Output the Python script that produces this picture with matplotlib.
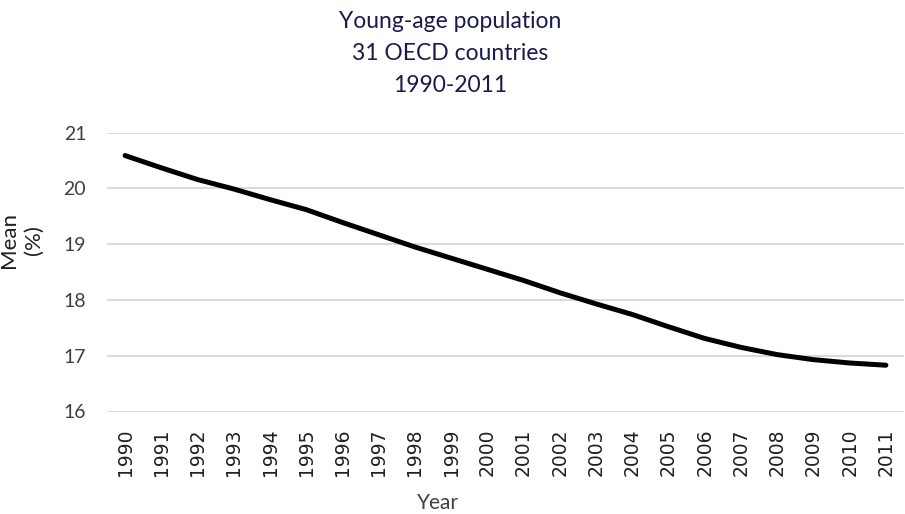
import matplotlib
matplotlib.use("Agg")
import matplotlib.pyplot as plt

# Mean share of young-age population, 31 OECD countries
years = [str(y) for y in range(1990, 2012)]
mean_pct = [20.59, 20.37, 20.16, 19.99, 19.80, 19.62, 19.39, 19.17, 18.95, 18.75,
            18.55, 18.35, 18.13, 17.93, 17.74, 17.52, 17.31, 17.15, 17.02, 16.93,
            16.87, 16.83]
y_ticks = [16, 17, 18, 19, 20, 21]
title_lines = ["Young-age population", "31 OECD countries", "1990-2011"]

W, H = 905, 514
fig = plt.figure(figsize=(W / 100, H / 100), dpi=100)
ax = fig.add_axes([107 / W, 1 - 411.5 / H, (904 - 107) / W, (411.5 - 132.7) / H])

x = list(range(len(years)))
ax.plot(x, mean_pct, color="black", linewidth=3.6, solid_capstyle="round",
        solid_joinstyle="round", zorder=3)

ax.set_xlim(-0.5, len(years) - 0.5)
ax.set_ylim(y_ticks[0], y_ticks[-1])
ax.set_yticks(y_ticks)
ax.set_yticklabels([str(v) for v in y_ticks], fontfamily="Lato", fontsize=14,
                   color="#404040")
ax.set_xticks(x)
ax.set_xticklabels(years, rotation=90, fontfamily="DejaVu Sans", fontsize=13.5,
                   color="#202020", va="top")
ax.tick_params(axis="both", length=0)
ax.tick_params(axis="x", pad=12)
ax.tick_params(axis="y", pad=15)

ax.grid(axis="y", color="#d9d9d9", linewidth=1.4, zorder=0)
ax.set_axisbelow(True)
for s in ax.spines.values():
    s.set_visible(False)

navy = "#1b1b4b"
for i, line in enumerate(title_lines):
    fig.text(450 / W, 1 - (28.5 + 32 * i) / H, line, ha="center", va="baseline",
             fontfamily="Lato", fontsize=16.5, color=navy)

fig.text(438 / W, 1 - 509 / H, "Year", ha="center", va="baseline",
         fontfamily="Lato", fontsize=15, color="#404040")
fig.text(21 / W, 1 - 240 / H, "Mean\n(%)", ha="center", va="center",
         rotation=90, fontfamily="Lato", fontsize=16, color="#202020",
         linespacing=1.3, multialignment="center")

fig.savefig("out.png", dpi=100)
